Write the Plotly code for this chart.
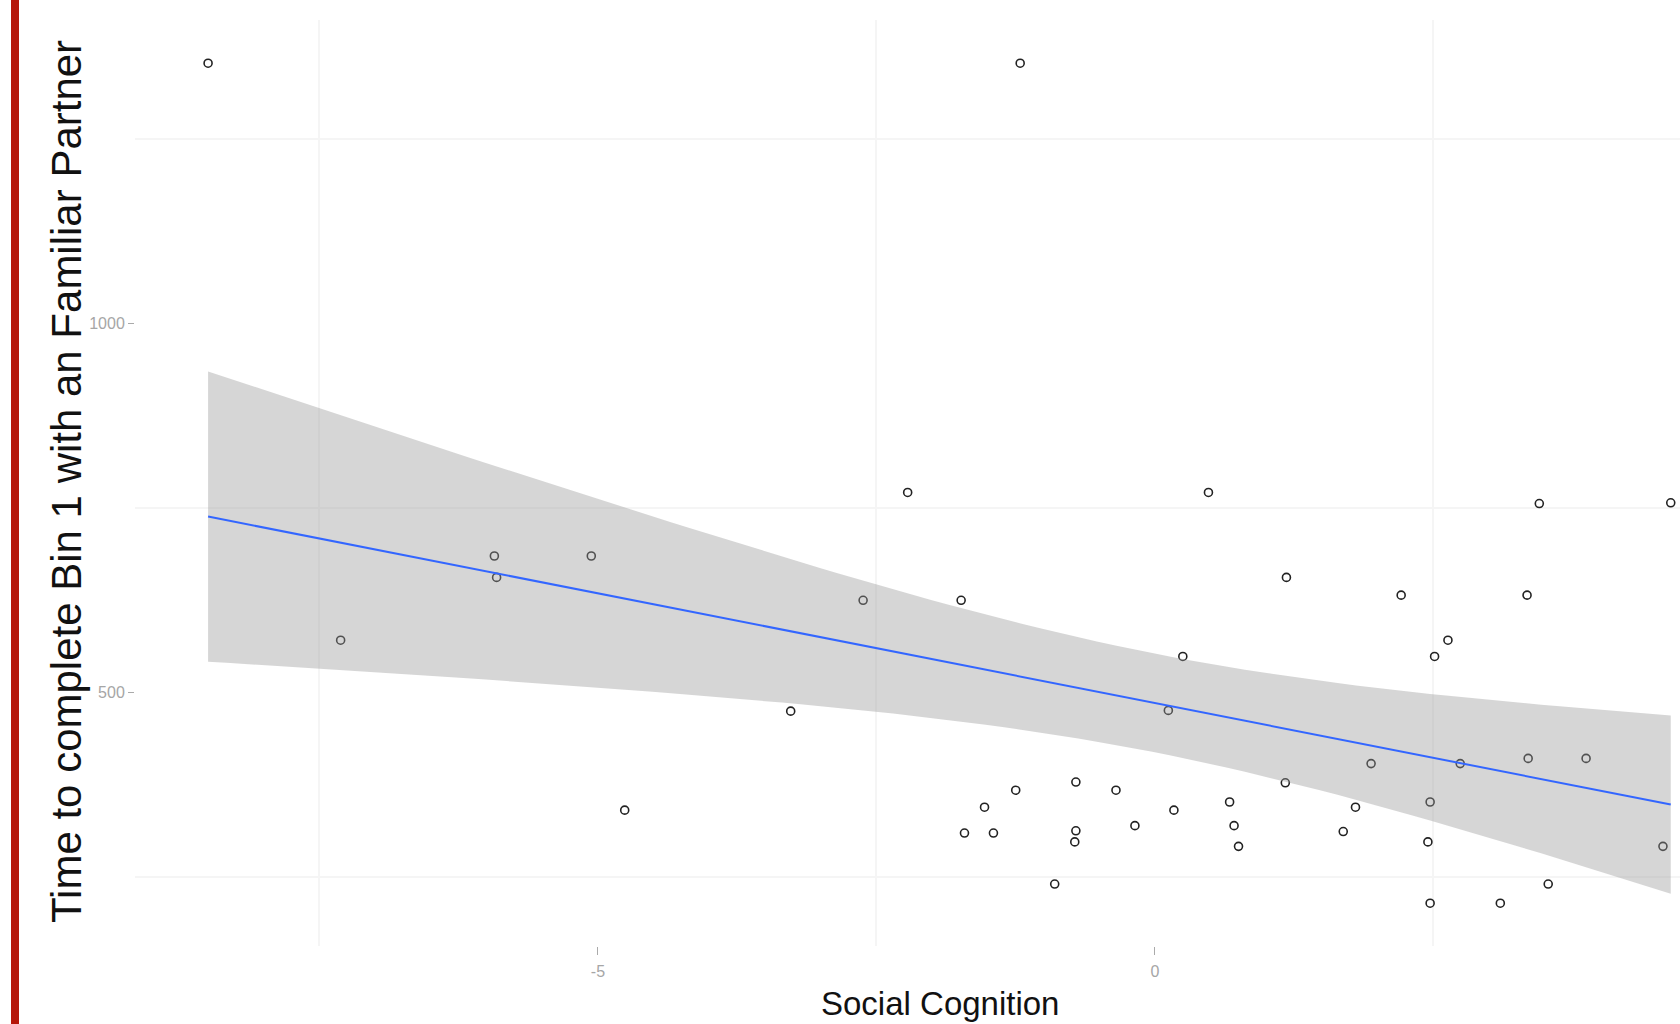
import numpy as np
import plotly.graph_objects as go

# ---- data ----
social_cognition = [
    -8.50, -1.21, -7.31, -5.93, -5.91, -5.06, -4.76, -3.27, -2.62, -2.22,
    -1.74, -1.71, -1.53, -1.45, -1.25, -0.90, -0.71, -0.71, -0.72, -0.35,
    -0.18, 0.12, 0.17, 0.25, 0.48, 0.67, 0.71, 0.75, 1.17, 1.18,
    1.69, 1.80, 1.94, 2.21, 2.45, 2.47, 2.47, 2.51, 2.63, 2.74,
    3.10, 3.34, 3.35, 3.45, 3.53, 3.87, 4.56, 4.63,
]
time_bin1 = [
    1352, 1352, 571, 685, 656, 685, 341, 475, 625, 771,
    625, 310, 345, 310, 368, 241, 379, 313, 298, 368,
    320, 476, 341, 549, 771, 352, 320, 292, 378, 656,
    312, 345, 404, 632, 298, 352, 215, 549, 571, 404,
    215, 632, 411, 756, 241, 411, 292, 757,
]
x_ticks = [-5, 0]
x_tick_labels = ["-5", "0"]
y_ticks = [500, 1000]
y_tick_labels = ["500", "1000"]
x_minor_grid = [-7.5, -2.5, 2.5]
y_minor_grid = [250, 750, 1250]

# ---- linear fit with 95% confidence band (like geom_smooth(method='lm')) ----
x = np.array(social_cognition, dtype=float)
y = np.array(time_bin1, dtype=float)
n = len(x)
b1, b0 = np.polyfit(x, y, 1)
xs = np.linspace(x.min(), x.max(), 80)
yhat = b0 + b1 * xs
resid = y - (b0 + b1 * x)
s = np.sqrt(resid @ resid / (n - 2))
sxx = ((x - x.mean()) ** 2).sum()
se = s * np.sqrt(1.0 / n + (xs - x.mean()) ** 2 / sxx)
t_crit = 2.0129  # t(0.975, df=46)
upper = yhat + t_crit * se
lower = yhat - t_crit * se

FONT = "Liberation Sans, Arial, Helvetica, sans-serif"

fig = go.Figure()
fig.add_trace(go.Scatter(
    x=x, y=y, mode="markers",
    marker=dict(symbol="circle-open", size=8, color="#222222",
                line=dict(width=1.6, color="#222222")),
    showlegend=False, hoverinfo="x+y",
))
fig.add_trace(go.Scatter(
    x=np.concatenate([xs, xs[::-1]]),
    y=np.concatenate([upper, lower[::-1]]),
    fill="toself", fillcolor="rgba(153,153,153,0.4)",
    line=dict(width=0), mode="lines", showlegend=False, hoverinfo="skip",
))
fig.add_trace(go.Scatter(
    x=xs, y=yhat, mode="lines",
    line=dict(color="#3366FF", width=2), showlegend=False,
))

grid_col = "#F5F5F5"
fig.update_xaxes(
    range=[-9.156, 4.713], showline=False, zeroline=False,
    tickmode="array", tickvals=x_ticks, ticktext=x_tick_labels,
    showgrid=False,
    ticks="outside", ticklen=8, tickwidth=1, tickcolor="#AAAAAA",
    ticklabelstandoff=3,
    tickfont=dict(family=FONT, size=16, color="#A6A6A6"),
    minor=dict(tickmode="array", tickvals=x_minor_grid, showgrid=True,
               gridcolor=grid_col, gridwidth=1.5, ticks=""),
)
fig.update_yaxes(
    range=[157.1, 1410.5], showline=False, zeroline=False,
    tickmode="array", tickvals=y_ticks, ticktext=y_tick_labels,
    showgrid=False,
    ticks="outside", ticklen=6, tickwidth=1, tickcolor="#AAAAAA",
    tickfont=dict(family=FONT, size=16, color="#A6A6A6"),
    minor=dict(tickmode="array", tickvals=y_minor_grid, showgrid=True,
               gridcolor=grid_col, gridwidth=1.5, ticks=""),
)

L, R, T, B = 135, 0, 20, 78
W, H = 1680, 1024
pw = W - L - R
ph = H - T - B

fig.update_layout(
    width=W, height=H,
    margin=dict(l=L, r=R, t=T, b=B, pad=0),
    plot_bgcolor="white", paper_bgcolor="white",
    font=dict(family=FONT),
    shapes=[dict(
        type="rect", xref="paper", yref="paper",
        x0=(11 - L) / pw, x1=(19 - L) / pw,
        y0=-B / ph - 0.01, y1=1 + T / ph + 0.01,
        fillcolor="#B5170A", line=dict(width=0), layer="above",
    )],
    annotations=[
        dict(text="Time to complete Bin 1 with an Familiar Partner",
             xref="paper", yref="paper",
             x=(66 - L) / pw, y=(H - B - 482) / ph,
             xanchor="center", yanchor="middle", textangle=-90,
             showarrow=False,
             font=dict(family=FONT, size=42, color="#111111")),
        dict(text="Social Cognition",
             xref="paper", yref="paper",
             x=(940 - L) / pw, y=(H - B - 1003) / ph,
             xanchor="center", yanchor="middle",
             showarrow=False,
             font=dict(family=FONT, size=33, color="#111111")),
    ],
)

fig.write_html(
    "out.html",
    config={"displayModeBar": False},
    post_script="document.body.style.margin='0';document.body.style.overflow='hidden';",
)
